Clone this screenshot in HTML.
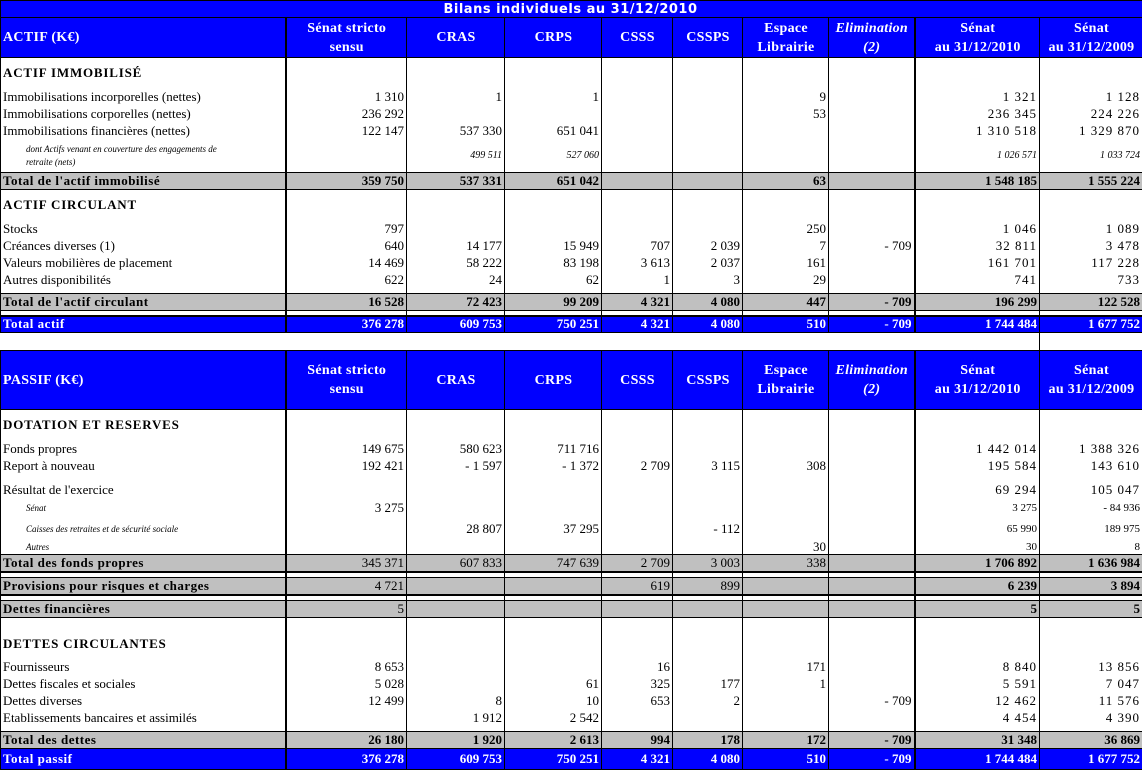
<!DOCTYPE html>
<html><head><meta charset="utf-8"><style>
body{margin:0;width:1142px;height:773px;background:#fff;overflow:hidden;position:relative}
table{position:absolute;left:0;top:0;border-collapse:collapse;table-layout:fixed;width:1142px}
td{padding:0 2px 0 3px;font:13px "Liberation Serif",serif;white-space:nowrap;overflow:hidden;border-left:1px solid #000;border-right:1px solid #000;text-align:right;vertical-align:middle;color:#000;line-height:14px}
td:first-child{text-align:left;border-left:1px solid #000;padding-left:2px}
td.a{border-right:2px solid #000}
td.h{border-right:2px solid #000}
tr.blue td{background:#0000ff;color:#fff;font-weight:bold;border-top:1px solid #000;border-bottom:1px solid #000}
tr.gray td{background:#c0c0c0;border-top:1px solid #000;border-bottom:1px solid #000}
tr.hd td{text-align:center;font-size:14px;line-height:19px;letter-spacing:.3px}
tr.hd td:first-child{text-align:left;font-size:14px}
tr.sec td:first-child{font-weight:bold;font-size:13px;letter-spacing:.8px}
tr.b td{font-weight:bold}
tr.b td:first-child,.bd{font-weight:bold}
td.lb{letter-spacing:.5px}
.it{font-style:italic}
.sp{letter-spacing:1px}
tr.gap td{border-bottom:2px solid #000;font-size:0;line-height:0}
tr.gap2 td{border-top:2px solid #000;font-size:0;line-height:0}
</style></head><body>
<table>
<colgroup><col style="width:285px"><col style="width:121px"><col style="width:98px"><col style="width:97px"><col style="width:71px"><col style="width:70px"><col style="width:86px"><col style="width:86px"><col style="width:125px"><col style="width:103px"></colgroup>
<tr class="blue" style="height:17px"><td colspan="10" style="text-align:center;font:bold 13px 'DejaVu Sans',sans-serif;letter-spacing:.5px;padding-left:0">Bilans individuels au 31/12/2010</td></tr>
<tr class="blue hd" style="height:40px"><td class="a">ACTIF (K€)</td><td>Sénat stricto<br>sensu</td><td>CRAS</td><td>CRPS</td><td>CSSS</td><td>CSSPS</td><td>Espace<br>Librairie</td><td class="h"><i>Elimination<br>(2)</i></td><td>Sénat<br>au 31/12/2010</td><td>Sénat<br>au 31/12/2009</td></tr>
<tr class="sec" style="height:31px"><td class="a">ACTIF IMMOBILISÉ</td><td></td><td></td><td></td><td></td><td></td><td></td><td class="h"></td><td></td><td></td></tr>
<tr style="height:17px"><td class="a">Immobilisations incorporelles (nettes)</td><td>1 310</td><td>1</td><td>1</td><td></td><td></td><td>9</td><td class="h"></td><td class="sp">1 321</td><td class="sp">1 128</td></tr>
<tr style="height:17px"><td class="a">Immobilisations corporelles (nettes)</td><td>236 292</td><td></td><td></td><td></td><td></td><td>53</td><td class="h"></td><td class="sp">236 345</td><td class="sp">224 226</td></tr>
<tr style="height:17px"><td class="a">Immobilisations financières (nettes)</td><td>122 147</td><td>537 330</td><td>651 041</td><td></td><td></td><td></td><td class="h"></td><td class="sp">1 310 518</td><td class="sp">1 329 870</td></tr>
<tr style="height:33px"><td class="a it" style="font-size:9px;line-height:13px;padding-left:25px">dont Actifs venant en couverture des engagements de<br>retraite (nets)</td><td></td><td class="it" style="font-size:10px">499 511</td><td class="it" style="font-size:10px">527 060</td><td></td><td></td><td></td><td class="h"></td><td class="it" style="font-size:10px">1 026 571</td><td class="it" style="font-size:10px">1 033 724</td></tr>
<tr class="gray b" style="height:17px"><td class="a lb">Total de l'actif immobilisé</td><td>359 750</td><td>537 331</td><td>651 042</td><td></td><td></td><td>63</td><td class="h"></td><td>1 548 185</td><td>1 555 224</td></tr>
<tr class="sec" style="height:31px"><td class="a">ACTIF CIRCULANT</td><td></td><td></td><td></td><td></td><td></td><td></td><td class="h"></td><td></td><td></td></tr>
<tr style="height:17px"><td class="a">Stocks</td><td>797</td><td></td><td></td><td></td><td></td><td>250</td><td class="h"></td><td class="sp">1 046</td><td class="sp">1 089</td></tr>
<tr style="height:17px"><td class="a">Créances diverses (1)</td><td>640</td><td>14 177</td><td>15 949</td><td>707</td><td>2 039</td><td>7</td><td class="h">- 709</td><td class="sp">32 811</td><td class="sp">3 478</td></tr>
<tr style="height:17px"><td class="a">Valeurs mobilières de placement</td><td>14 469</td><td>58 222</td><td>83 198</td><td>3 613</td><td>2 037</td><td>161</td><td class="h"></td><td class="sp">161 701</td><td class="sp">117 228</td></tr>
<tr style="height:17px"><td class="a">Autres disponibilités</td><td>622</td><td>24</td><td>62</td><td>1</td><td>3</td><td>29</td><td class="h"></td><td class="sp">741</td><td class="sp">733</td></tr>
<tr style="height:5px"><td class="a"></td><td></td><td></td><td></td><td></td><td></td><td></td><td class="h"></td><td></td><td></td></tr>
<tr class="gray b" style="height:17px"><td class="a lb">Total de l'actif circulant</td><td>16 528</td><td>72 423</td><td>99 209</td><td>4 321</td><td>4 080</td><td>447</td><td class="h">- 709</td><td>196 299</td><td>122 528</td></tr>
<tr class="gap" style="height:5px"><td class="a"></td><td></td><td></td><td></td><td></td><td></td><td></td><td class="h"></td><td></td><td></td></tr>
<tr class="blue" style="height:17px"><td class="a lb">Total actif</td><td>376 278</td><td>609 753</td><td>750 251</td><td>4 321</td><td>4 080</td><td>510</td><td class="h">- 709</td><td>1 744 484</td><td>1 677 752</td></tr>
<tr style="height:18px"><td colspan="8" style="border-left:none;border-right:none"></td><td style="border-left:none"></td><td style="border-left:1px solid #000;border-right:none"></td></tr>
<tr class="blue hd" style="height:59px"><td class="a">PASSIF (K€)</td><td>Sénat stricto<br>sensu</td><td>CRAS</td><td>CRPS</td><td>CSSS</td><td>CSSPS</td><td>Espace<br>Librairie</td><td class="h"><i>Elimination<br>(2)</i></td><td>Sénat<br>au 31/12/2010</td><td>Sénat<br>au 31/12/2009</td></tr>
<tr class="sec" style="height:31px"><td class="a">DOTATION ET RESERVES</td><td></td><td></td><td></td><td></td><td></td><td></td><td class="h"></td><td></td><td></td></tr>
<tr style="height:17px"><td class="a">Fonds propres</td><td>149 675</td><td>580 623</td><td>711 716</td><td></td><td></td><td></td><td class="h"></td><td class="sp">1 442 014</td><td class="sp">1 388 326</td></tr>
<tr style="height:17px"><td class="a">Report à nouveau</td><td>192 421</td><td>- 1 597</td><td>- 1 372</td><td>2 709</td><td>3 115</td><td>308</td><td class="h"></td><td class="sp">195 584</td><td class="sp">143 610</td></tr>
<tr style="height:7px"><td class="a"></td><td></td><td></td><td></td><td></td><td></td><td></td><td class="h"></td><td></td><td></td></tr>
<tr style="height:17px"><td class="a">Résultat de l'exercice</td><td></td><td></td><td></td><td></td><td></td><td></td><td class="h"></td><td class="sp">69 294</td><td class="sp">105 047</td></tr>
<tr style="height:19px"><td class="a it" style="font-size:9px;padding-left:25px">Sénat</td><td>3 275</td><td></td><td></td><td></td><td></td><td></td><td class="h"></td><td style="font-size:11px">3 275</td><td style="font-size:11px">- 84 936</td></tr>
<tr style="height:22px"><td class="a it" style="font-size:9px;padding-left:25px">Caisses des retraites et de sécurité sociale</td><td></td><td>28 807</td><td>37 295</td><td></td><td>- 112</td><td></td><td class="h"></td><td style="font-size:11px">65 990</td><td style="font-size:11px">189 975</td></tr>
<tr style="height:15px"><td class="a it" style="font-size:9px;padding-left:25px">Autres</td><td></td><td></td><td></td><td></td><td></td><td>30</td><td class="h"></td><td style="font-size:11px">30</td><td style="font-size:11px">8</td></tr>
<tr class="gray" style="height:17px"><td class="a bd lb">Total des fonds propres</td><td>345 371</td><td>607 833</td><td>747 639</td><td>2 709</td><td>3 003</td><td>338</td><td class="h"></td><td class="bd">1 706 892</td><td class="bd">1 636 984</td></tr>
<tr class="gap2" style="height:6px"><td class="a"></td><td></td><td></td><td></td><td></td><td></td><td></td><td class="h"></td><td></td><td></td></tr>
<tr class="gray" style="height:17px"><td class="a bd lb">Provisions pour risques et charges</td><td>4 721</td><td></td><td></td><td>619</td><td>899</td><td></td><td class="h"></td><td class="bd">6 239</td><td class="bd">3 894</td></tr>
<tr class="gap2" style="height:6px"><td class="a"></td><td></td><td></td><td></td><td></td><td></td><td></td><td class="h"></td><td></td><td></td></tr>
<tr class="gray" style="height:17px"><td class="a bd lb">Dettes financières</td><td>5</td><td></td><td></td><td></td><td></td><td></td><td class="h"></td><td class="bd">5</td><td class="bd">5</td></tr>
<tr class="sec" style="height:41px"><td class="a" style="vertical-align:bottom;padding-bottom:8px">DETTES CIRCULANTES</td><td></td><td></td><td></td><td></td><td></td><td></td><td class="h"></td><td></td><td></td></tr>
<tr style="height:17px"><td class="a">Fournisseurs</td><td>8 653</td><td></td><td></td><td>16</td><td></td><td>171</td><td class="h"></td><td class="sp">8 840</td><td class="sp">13 856</td></tr>
<tr style="height:17px"><td class="a">Dettes fiscales et sociales</td><td>5 028</td><td></td><td>61</td><td>325</td><td>177</td><td>1</td><td class="h"></td><td class="sp">5 591</td><td class="sp">7 047</td></tr>
<tr style="height:17px"><td class="a">Dettes diverses</td><td>12 499</td><td>8</td><td>10</td><td>653</td><td>2</td><td></td><td class="h">- 709</td><td class="sp">12 462</td><td class="sp">11 576</td></tr>
<tr style="height:17px"><td class="a">Etablissements bancaires et assimilés</td><td></td><td>1 912</td><td>2 542</td><td></td><td></td><td></td><td class="h"></td><td class="sp">4 454</td><td class="sp">4 390</td></tr>
<tr style="height:5px"><td class="a"></td><td></td><td></td><td></td><td></td><td></td><td></td><td class="h"></td><td></td><td></td></tr>
<tr class="gray b" style="height:17px"><td class="a lb">Total des dettes</td><td>26 180</td><td>1 920</td><td>2 613</td><td>994</td><td>178</td><td>172</td><td class="h">- 709</td><td>31 348</td><td>36 869</td></tr>
<tr class="blue" style="height:21px"><td class="a lb">Total passif</td><td>376 278</td><td>609 753</td><td>750 251</td><td>4 321</td><td>4 080</td><td>510</td><td class="h">- 709</td><td>1 744 484</td><td>1 677 752</td></tr>
</table>
</body></html>
